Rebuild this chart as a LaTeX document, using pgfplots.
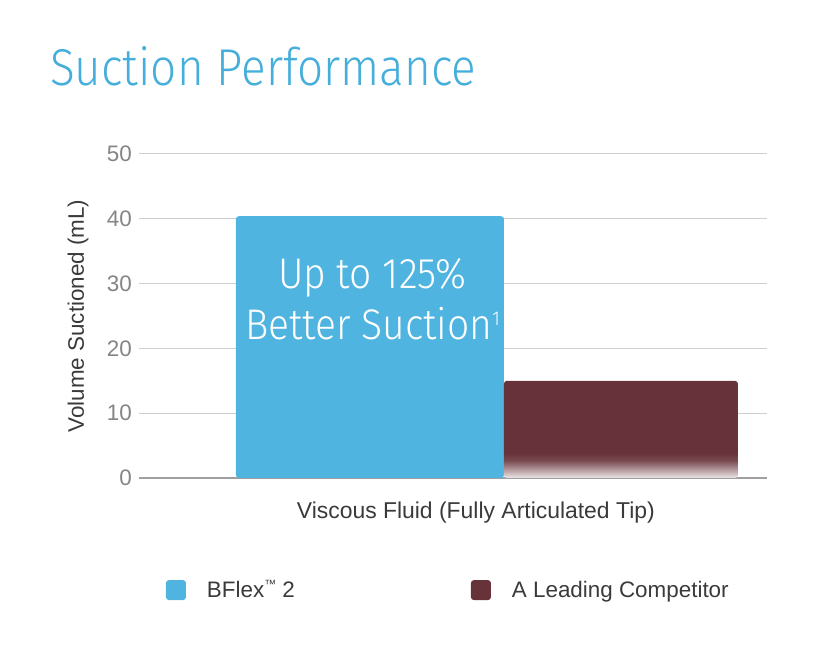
\documentclass[border=0pt]{standalone}
\usepackage{pgfplots}
\pgfplotsset{compat=1.18}
\usepackage{fontspec}
\setmainfont{Liberation Sans}
\IfFontExistsTF{Fira Sans Light}
  {\newfontfamily\lightfont{Fira Sans Light}}
  {\IfFontExistsTF{Lato Light}
    {\newfontfamily\lightfont{Lato Light}}
    {\newfontfamily\lightfont{Fira Sans}}}

\definecolor{bblue}{HTML}{50B4E0}
\definecolor{titleblue}{HTML}{45AEDB}
\definecolor{barred}{HTML}{673239}
\definecolor{tickgray}{HTML}{858585}
\definecolor{textgray}{HTML}{3A3A3A}
\definecolor{gridgray}{HTML}{CFCFCF}
\definecolor{axisgray}{HTML}{A0A0A0}

% red bar fades to white at the foot
\pgfdeclareverticalshading{redfade}{100bp}{color(0bp)=(white); color(25bp)=(white!88!barred);
  color(30bp)=(white!45!barred); color(34bp)=(white!12!barred); color(38bp)=(barred); color(100bp)=(barred)}

\begin{document}
\begin{tikzpicture}
\path[use as bounding box] (0,0) rectangle (819bp,650bp);
\begin{axis}[
    at={(139bp,172bp)}, anchor=south west,
    scale only axis, width=628bp, height=324bp,
    xmin=-0.920, xmax=1.582,
    ymin=0, ymax=50,
    ytick={0,10,...,50},
    xtick={0.422},
    xticklabels={Viscous Fluid (Fully Articulated Tip)},
    major tick length=0pt,
    axis line style={draw=none},
    ymajorgrids,
    grid style={draw=gridgray, line width=1bp},
    extra y ticks={0},
    extra y tick labels={},
    extra y tick style={grid style={draw=axisgray, line width=1.3bp}},
    /pgf/number format/assume math mode=true,
    tick label style={font=\fontsize{22.5}{27}\selectfont},
    yticklabel style={text=tickgray, inner xsep=0pt, xshift=-7bp},
    xticklabel style={text=textgray, anchor=base, yshift=-40bp, font=\fontsize{23}{27}\selectfont},
    ylabel={Volume Suctioned (mL)},
    ylabel style={font=\fontsize{22.5}{27}\selectfont, text=textgray,
      at={(axis description cs:-0.097,0.5)}, anchor=center},
    legend columns=2,
    legend style={draw=none, fill=none, at={(axis description cs:0.491,-0.346)}, anchor=center,
      font=\fontsize{22.5}{27}\selectfont, text=textgray,
      nodes={inner xsep=0pt},
      /tikz/every odd column/.append style={column sep=21bp},
      /tikz/every even column/.append style={column sep=176bp}},
]
\addplot[ybar, bar shift=0pt, bar width=1.068, fill=bblue, draw=none, rounded corners=3bp,
  legend image code/.code={\fill[bblue] (0bp,-10bp) rectangle (20bp,10bp);}]
  coordinates {(0,40.4)};
\addlegendentry{BFlex\raisebox{9bp}{\fontsize{12}{12}\selectfont™} 2}
\addplot[ybar, bar shift=0pt, bar width=0.932, shading=redfade, draw=none, rounded corners=3bp,
  legend image code/.code={\fill[barred, shade=false] (0bp,-10bp) rectangle (20bp,10bp);}]
  coordinates {(1,15.0)};
\addlegendentry{A Leading Competitor}
\node[anchor=base, text=white, font=\lightfont\fontsize{43}{50}\selectfont] at (axis cs:0.01,29.3)
  {\scalebox{0.91}[1]{Up to 125\%}};
\node[anchor=base, text=white, font=\lightfont\fontsize{43}{50}\selectfont] at (axis cs:0.01,21.45)
  {\scalebox{0.91}[1]{Better Suction\raisebox{14bp}{\fontsize{20}{20}\selectfont 1}}};
\end{axis}
\node[anchor=base west, text=titleblue, font=\lightfont\fontsize{52}{60}\selectfont, inner sep=0pt]
  at (50bp,564bp) {\scalebox{0.885}[1]{Suction Performance}};
\end{tikzpicture}
\end{document}
